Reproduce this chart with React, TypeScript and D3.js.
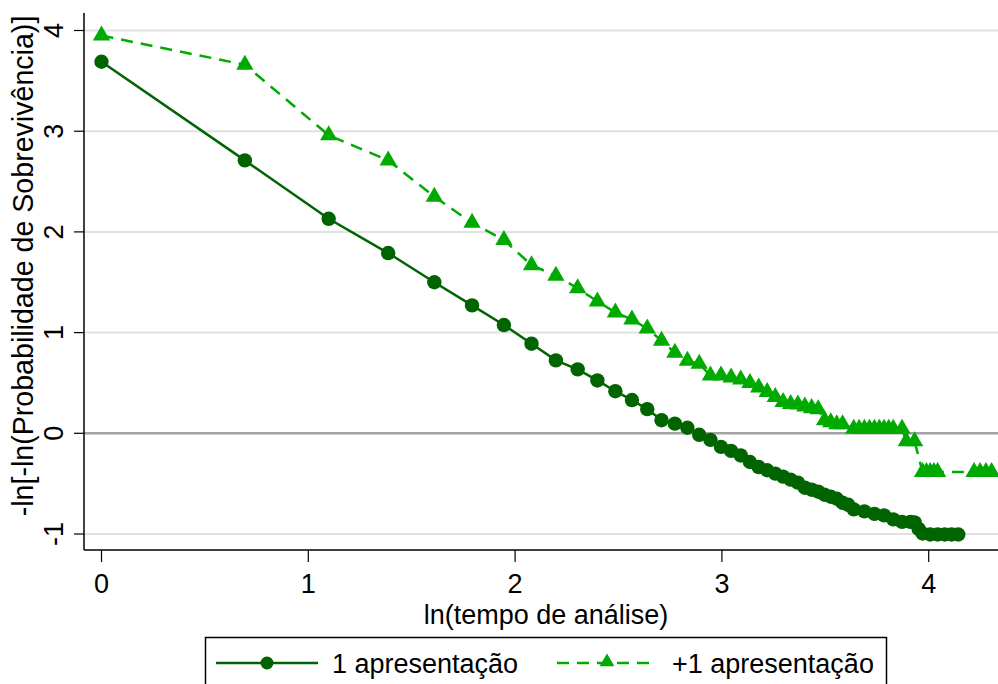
import React from 'react';
import * as d3 from 'd3';

// tempo (time) values, x axis shows ln(tempo)
const tempo1 = [1, 2, 3, 4, 5, 6, 7, 8, 9, 10, 11, 12, 13, 14, 15, 16, 17, 18, 19, 20,
  21, 22, 23, 24, 25, 26, 27, 28, 29, 30, 31, 32, 33, 34, 35, 36, 37, 38, 40, 42,
  44, 46, 48, 50, 51, 52, 53, 55, 57, 59, 61, 63];
const valores1 = [3.69, 2.71, 2.13, 1.79, 1.50, 1.27, 1.075, 0.89, 0.724, 0.635, 0.525, 0.418, 0.33, 0.24, 0.13, 0.096, 0.055, -0.015, -0.065, -0.135,
  -0.175, -0.22, -0.285, -0.335, -0.367, -0.40, -0.43, -0.46, -0.49, -0.54, -0.56, -0.58, -0.61, -0.63, -0.65, -0.69, -0.71, -0.755, -0.775, -0.80,
  -0.815, -0.855, -0.88, -0.88, -0.885, -0.95, -0.995, -1.005, -1.005, -1.005, -1.005, -1.005];

const tempo2 = [1, 2, 3, 4, 5, 6, 7, 8, 9, 10, 11, 12, 13, 14, 15, 16, 17, 18, 19, 20,
  21, 22, 23, 24, 25, 26, 27, 28, 29, 30, 31, 32, 33, 34, 35, 36, 38, 39, 40, 41,
  42, 43, 44, 45, 46, 48, 49, 51, 53, 54, 55, 56, 57, 68, 70, 72, 74];
const valores2 = [3.95, 3.66, 2.96, 2.71, 2.35, 2.09, 1.92, 1.67, 1.565, 1.44, 1.31, 1.20, 1.13, 1.04, 0.92, 0.80, 0.72, 0.69, 0.575, 0.575,
  0.555, 0.535, 0.50, 0.455, 0.41, 0.36, 0.31, 0.29, 0.285, 0.265, 0.25, 0.24, 0.13, 0.11, 0.09, 0.09, 0.045, 0.045, 0.045, 0.045,
  0.045, 0.045, 0.045, 0.045, 0.045, 0.045, -0.08, -0.08, -0.385, -0.385, -0.385, -0.385, -0.385, -0.385, -0.385, -0.385, -0.385];

const xTicks = [0, 1, 2, 3, 4];
const yTicks = [-1, 0, 1, 2, 3, 4];
const nomes = ['1 apresentação', '+1 apresentação'];

const W = 998;
const H = 684;
const FONT = '"Liberation Sans", Arial, sans-serif';
const COR1 = '#006400';
const COR2 = '#00aa00';

export default function App() {
  const x = d3.scaleLinear().domain([0, 4]).range([101.5, 928.7]);
  const y = d3.scaleLinear().domain([-1, 4]).range([534, 30.5]);

  const serie1 = tempo1.map((t, i) => ({ x: Math.log(t), y: valores1[i] }));
  const serie2 = tempo2.map((t, i) => ({ x: Math.log(t), y: valores2[i] }));

  const line = d3.line<{ x: number; y: number }>().x(d => x(d.x)).y(d => y(d.y));
  const tri = d3.symbol().type(d3.symbolTriangle).size(130)();
  const triLeg = d3.symbol().type(d3.symbolTriangle).size(95)();

  const axisLeft = 84;
  const axisBottom = 550;

  return (
    <svg width={W} height={H} style={{ position: 'absolute', left: 0, top: 0, background: '#fff' }} fontFamily={FONT}>
      <defs>
        <clipPath id="plot">
          <rect x={axisLeft} y={0} width={W - axisLeft} height={axisBottom} />
        </clipPath>
      </defs>

      {/* grid */}
      {yTicks.map(t => (
        <line key={t} x1={axisLeft} x2={W} y1={y(t)} y2={y(t)}
          stroke={t === 0 ? '#a3a3a3' : '#e1e1e1'} strokeWidth={t === 0 ? 2.5 : 2} />
      ))}

      {/* axes */}
      <line x1={axisLeft} x2={axisLeft} y1={13} y2={axisBottom} stroke="#000" strokeWidth={1.5} />
      <line x1={axisLeft} x2={W} y1={axisBottom} y2={axisBottom} stroke="#000" strokeWidth={1.5} />
      {yTicks.map(t => (
        <g key={t}>
          <line x1={axisLeft - 10} x2={axisLeft} y1={y(t)} y2={y(t)} stroke="#000" strokeWidth={1.2} />
          <text transform={`translate(63,${y(t)}) rotate(-90)`} textAnchor="middle" fontSize={27}>{t}</text>
        </g>
      ))}
      {xTicks.map(t => (
        <g key={t}>
          <line x1={x(t)} x2={x(t)} y1={axisBottom} y2={axisBottom + 12} stroke="#000" strokeWidth={1.2} />
          <text x={x(t)} y={593} textAnchor="middle" fontSize={27}>{t}</text>
        </g>
      ))}
      <text x={546} y={623.5} textAnchor="middle" fontSize={27}>ln(tempo de análise)</text>
      <text transform="translate(33,266) rotate(-90)" textAnchor="middle" fontSize={28.6}>-ln[-ln(Probabilidade de Sobrevivência)]</text>

      {/* series */}
      <g clipPath="url(#plot)">
        <path d={line(serie1) || ''} fill="none" stroke={COR1} strokeWidth={2.5} />
        {serie1.map((d, i) => (
          <circle key={i} cx={x(d.x)} cy={y(d.y)} r={7.2} fill={COR1} />
        ))}
        <path d={line(serie2) || ''} fill="none" stroke={COR2} strokeWidth={2.5} strokeDasharray="12 8" />
        {serie2.map((d, i) => (
          <path key={i} d={tri || ''} transform={`translate(${x(d.x)},${y(d.y)})`} fill={COR2} />
        ))}
      </g>

      {/* legend */}
      <rect x={205.5} y={637.5} width={681} height={60} fill="#fff" stroke="#000" strokeWidth={1.5} />
      <line x1={216} x2={318} y1={663} y2={663} stroke={COR1} strokeWidth={2.5} />
      <circle cx={267} cy={663} r={6.5} fill={COR1} />
      <text x={332} y={673} fontSize={27}>{nomes[0]}</text>
      <line x1={557} x2={656} y1={663} y2={663} stroke={COR2} strokeWidth={2.5} strokeDasharray="12 8" />
      <path d={triLeg || ''} transform="translate(607,662)" fill={COR2} />
      <text x={672} y={673} fontSize={27}>{nomes[1]}</text>
    </svg>
  );
}
